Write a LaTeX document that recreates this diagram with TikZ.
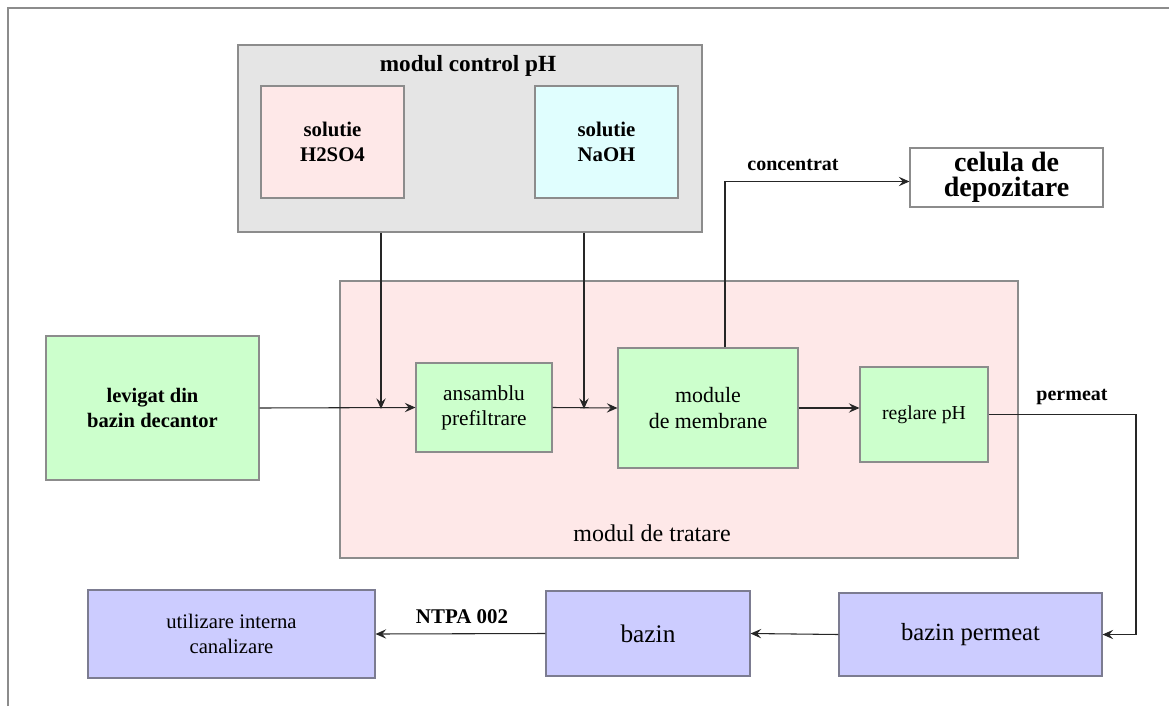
\documentclass[tikz,border=0pt]{standalone}
\usepackage{fontspec}
\setmainfont{Liberation Serif}
\usetikzlibrary{positioning,arrows.meta}

\definecolor{gri}{HTML}{E5E5E5}
\definecolor{roz}{HTML}{FEE8E8}
\definecolor{cyan}{HTML}{E0FEFE}
\definecolor{verde}{HTML}{CCFFCC}
\definecolor{albastru}{HTML}{CCCCFF}

\begin{document}
\begin{tikzpicture}[x=0.75pt,y=-0.75pt,
	wh/.style 2 args={minimum width=#1*0.75pt, minimum height=#2*0.75pt},
	block/.style={rectangle,draw=black!45,align=center,inner sep=1pt,line width=0.8pt},
	greenblock/.style={block,fill=verde},
	blueblock/.style={block,fill=albastru,draw=black!40!albastru!70!gray},
	links/.style={-{Stealth[length=8pt,width=7pt,inset=3pt]}, black!85, line width=0.8pt},
	fnt/.style={font=\fontsize{#1}{\fpeval{#1*1.18}}\selectfont},
	bfnt/.style={font=\bfseries\fontsize{#1}{\fpeval{#1*1.18}}\selectfont}]
	
		\useasboundingbox (0,0) rectangle (1169,706);
		\draw[black!45, line width=0.8pt] (8,706) -- (8,8) -- (1169,8);
		
		% module
		\node[block, fill=roz, wh={678}{277}] at (679,419.5) (tratare) {};
		\node[fnt=18] at (652,533) (tratarelabel) {modul de tratare};
		
		\node[block, fill=gri, wh={464}{187}] at (470,138.5) (control) {};
		\node[bfnt=17.4] at (468,66) (controllabel) {modul control pH};
		
		\node[block, fill=roz, wh={143}{112}, bfnt=15.6] at (332.5,142) (acid) {solutie\\H2SO4};
		\node[block, fill=cyan, wh={143}{112}, bfnt=15.6] at (606.5,142) (baza) {solutie\\NaOH};
		
		% linia de tratare
		\node[greenblock, wh={213}{144}, bfnt=15.4] at (152.5,408) (levigat) {levigat din\\bazin decantor};
		\node[greenblock, wh={136}{89}, fnt=16] at (484,407.5) (prefiltrare) {ansamblu\\prefiltrare};
		\node[greenblock, wh={180}{120}, fnt=16.4] at (708,408) (membrane) {module\\de membrane};
		\node[greenblock, wh={128}{95}, fnt=14.8] at (924,414.5) (reglare) {reglare pH};
		
		\node[block, fill=white, wh={193}{59}, font=\bfseries\fontsize{21}{19}\selectfont] at (1006.5,177.5) (depozitare) {celula de\\depozitare};
		
		% bazine
		\node[blueblock, wh={263}{83}, fnt=18.5] at (970.5,634.5) (bazinpermeat) {bazin permeat};
		\node[blueblock, wh={204}{85}, fnt=19] at (648,633.5) (bazin) {bazin};
		\node[blueblock, wh={287}{88}, fnt=15.5] at (231.5,634) (utilizare) {utilizare interna\\canalizare};
		
		\coordinate (acidjoin) at (381,409);
		\coordinate (bazajoin) at (584,409);
		\coordinate (turn) at (1136,411);
		
		\node[bfnt=15] at (793,165) (concentrat) {concentrat};
		\node[bfnt=15] at (1072,397) (permeat) {permeat};
		\node[bfnt=15.7] at (462,617) (ntpa) {NTPA 002};
		
		\draw[links] (levigat.east) -- (prefiltrare.west);
		\draw[links] (prefiltrare.east) -- (membrane.west);
		\draw[links] (membrane.east) -- (reglare.west |- membrane.east);
		
		\draw[links] (acidjoin |- control.south) -- (acidjoin);
		\draw[links] (bazajoin |- control.south) -- (bazajoin);
		
		\draw[links] ([xshift=17*0.75pt]membrane.north) |- ([yshift=-3pt]depozitare.west);
		
		\draw[links] (reglare.east) -- (reglare.east -| turn) |- (bazinpermeat.east);
		\draw[links] (bazinpermeat.west) -- (bazin.east);
		\draw[links] (bazin.west) -- (utilizare.east);
	\end{tikzpicture}
\end{document}
